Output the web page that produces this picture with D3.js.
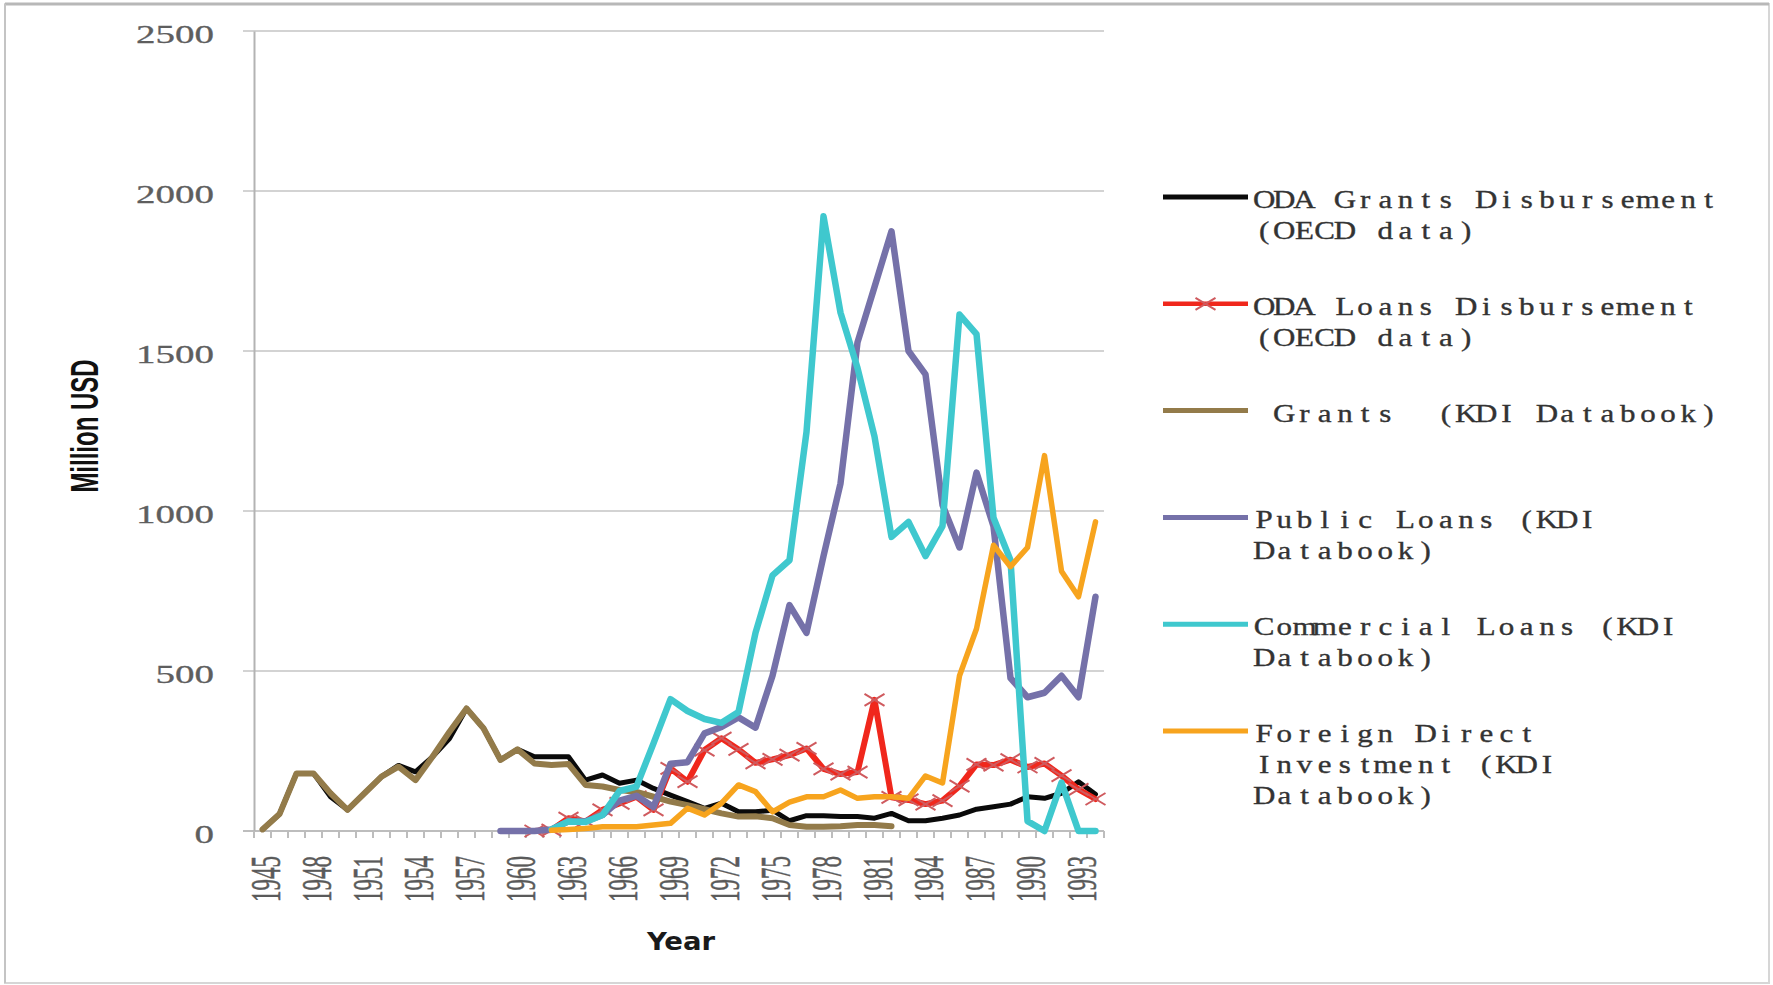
<!DOCTYPE html>
<html>
<head>
<meta charset="utf-8">
<script src="https://cdn.jsdelivr.net/npm/d3@7"></script>
<style>
  html, body { margin: 0; padding: 0; background: #fff; }
  svg { display: block; }
</style>
</head>
<body>
<svg id="chart" width="1773" height="985"></svg>
<script>
const years = [1945, 1946, 1947, 1948, 1949, 1950, 1951, 1952, 1953, 1954,
  1955, 1956, 1957, 1958, 1959, 1960, 1961, 1962, 1963, 1964,
  1965, 1966, 1967, 1968, 1969, 1970, 1971, 1972, 1973, 1974,
  1975, 1976, 1977, 1978, 1979, 1980, 1981, 1982, 1983, 1984,
  1985, 1986, 1987, 1988, 1989, 1990, 1991, 1992, 1993, 1994];
const xTickLabels = [1945, 1948, 1951, 1954, 1957, 1960, 1963, 1966, 1969, 1972, 1975, 1978, 1981, 1984, 1987, 1990, 1993];
const yTicks = [0, 500, 1000, 1500, 2000, 2500];

// million USD, one value per year, null = no data
const odaGrants = [5, 53, 180, 180, 107, 66, 118, 170, 205, 185,
  232, 289, 383, 321, 222, 255, 232, 232, 232, 159,
  175, 149, 159, 133, 112, 92, 71, 87, 60, 60,
  65, 32, 48, 48, 45, 45, 40, 55, 32, 32,
  40, 50, 68, 76, 84, 107, 102, 118, 154, 115];
const odaLoans = [null, null, null, null, null, null, null, null, null, null,
  null, null, null, null, null, null, 0, 3, 40, 30,
  66, 86, 107, 66, 196, 154, 253, 290, 255, 213,
  224, 237, 258, 194, 178, 184, 410, 105, 97, 84,
  95, 140, 208, 206, 223, 200, 211, 173, 130, 100];
const grantsKDI = [5, 53, 180, 180, 118, 66, 118, 170, 201, 159,
  232, 310, 383, 321, 222, 255, 211, 206, 209, 144,
  139, 128, 122, 107, 92, 81, 68, 55, 45, 46,
  40, 19, 13, 13, 15, 19, 19, 15, null, null,
  null, null, null, null, null, null, null, null, null, null];
const publicLoans = [null, null, null, null, null, null, null, null, null, null,
  null, null, null, null, 0, 0, 0, 5, 30, 30,
  50, 95, 110, 75, 210, 215, 305, 325, 355, 323,
  485, 706, 619, 859, 1086, 1527, 1700, 1874, 1500, 1427,
  1019, 886, 1120, 952, 478, 418, 432, 485, 418, 732];
const commercialLoans = [null, null, null, null, null, null, null, null, null, null,
  null, null, null, null, null, null, null, 5, 30, 28,
  50, 125, 139, 274, 412, 375, 350, 338, 372, 619,
  799, 846, 1247, 1921, 1620, 1447, 1233, 919, 966, 859,
  953, 1614, 1553, 979, 846, 31, 0, 151, 0, 0];
const fdi = [null, null, null, null, null, null, null, null, null, null,
  null, null, null, null, null, null, null, 2, 5, 8,
  13, 13, 13, 19, 24, 71, 50, 87, 144, 123,
  60, 90, 107, 107, 128, 102, 107, 107, 102, 172,
  150, 485, 632, 893, 826, 886, 1173, 812, 732, 966];

const legendLabels = [
  ['ODA Grants Disbursement', '(OECD data)'],
  ['ODA Loans Disbursement', '(OECD data)'],
  [' Grants  (KDI Databook)'],
  ['Public Loans (KDI', 'Databook)'],
  ['Commercial Loans (KDI', 'Databook)'],
  ['Foreign Direct', 'Investment (KDI', 'Databook)']
];

const series = [
  { values: odaGrants, color: '#0a0a0a', width: 5 },
  { values: odaLoans, color: '#f0271c', width: 6, marker: true },
  { values: grantsKDI, color: '#937b4a', width: 6 },
  { values: publicLoans, color: '#7571a9', width: 6.5 },
  { values: commercialLoans, color: '#3fc8ce', width: 6.5 },
  { values: fdi, color: '#f7a41e', width: 5.5 }
];

const svg = d3.select('#chart');

const x = d3.scaleBand().domain(years).range([254, 1104]).padding(0);
const y = d3.scaleLinear().domain([0, 2500]).range([831, 31]);
const cx = d => x(d) + x.bandwidth() / 2;
const [x0, x1] = x.range();

// outer frame
svg.append('rect')
  .attr('x', 5).attr('y', 4).attr('width', 1764).attr('height', 979)
  .attr('fill', '#fff').attr('stroke', '#d6d6d6').attr('stroke-width', 2);
svg.append('line')
  .attr('x1', 5).attr('x2', 1769).attr('y1', 4).attr('y2', 4)
  .attr('stroke', '#b8b8b8').attr('stroke-width', 3);
svg.append('line')
  .attr('x1', 5).attr('x2', 5).attr('y1', 4).attr('y2', 983)
  .attr('stroke', '#c4c4c4').attr('stroke-width', 2);

// gridlines
svg.append('g')
  .selectAll('line')
  .data(yTicks)
  .join('line')
  .attr('x1', x0 - 11).attr('x2', x1)
  .attr('y1', d => y(d)).attr('y2', d => y(d))
  .attr('stroke', d => d === 0 ? '#bdbdbd' : '#d3d3d3')
  .attr('stroke-width', 2);

// y axis
const yAxis = svg.append('g')
  .attr('transform', `translate(${x0},0)`)
  .call(d3.axisLeft(y).tickValues(yTicks).tickSize(0).tickSizeOuter(0).tickFormat(d3.format('d')));
yAxis.select('.domain').attr('stroke', '#b3b3b3').attr('stroke-width', 2);
yAxis.selectAll('text')
  .attr('x', null).attr('dy', null)
  .attr('transform', 'translate(-40,11) scale(1.5,1)')
  .attr('text-anchor', 'end')
  .style('font-family', '"Liberation Serif", "DejaVu Serif", serif')
  .style('font-size', '26px')
  .style('fill', '#5e5e5e')
  .style('stroke', '#5e5e5e')
  .style('stroke-width', '0.3px');

// x ticks on band edges
svg.append('g')
  .selectAll('line')
  .data(years.concat([null]))
  .join('line')
  .attr('x1', d => d === null ? x1 : x(d))
  .attr('x2', d => d === null ? x1 : x(d))
  .attr('y1', y(0)).attr('y2', y(0) + 7)
  .attr('stroke', '#bdbdbd').attr('stroke-width', 2);

const xAxis = svg.append('g')
  .attr('transform', `translate(0,${y(0)})`)
  .call(d3.axisBottom(x).tickValues(xTickLabels).tickSize(0).tickFormat(d3.format('d')));
xAxis.select('.domain').remove();
xAxis.selectAll('text')
  .attr('y', null).attr('dy', null)
  .attr('transform', 'translate(17.5,25) rotate(-90) scale(1,1.85)')
  .attr('text-anchor', 'end')
  .style('font-family', '"Liberation Serif", "DejaVu Serif", serif')
  .style('font-size', '23px')
  .style('fill', '#5a5a5a')
  .style('stroke', '#5a5a5a')
  .style('stroke-width', '0.3px');

// axis titles
svg.append('text')
  .attr('transform', 'translate(98,426) rotate(-90) scale(1,1.6)')
  .attr('text-anchor', 'middle')
  .style('font-family', '"Liberation Sans", Arial, sans-serif')
  .style('font-weight', 'bold')
  .style('font-size', '24px')
  .style('fill', '#111')
  .text('Million USD');

svg.append('text')
  .attr('transform', 'translate(681,950) scale(1.1,1)')
  .attr('text-anchor', 'middle')
  .style('font-family', '"DejaVu Sans", Verdana, sans-serif')
  .style('font-weight', 'bold')
  .style('font-size', '25px')
  .style('fill', '#1a1a1a')
  .text('Year');

// series lines
const line = d3.line()
  .defined(d => d.v !== null)
  .x(d => cx(d.year))
  .y(d => y(d.v));

const crossPath = 'M-10,-6L10,6M-10,6L10,-6';

series.forEach(s => {
  const pts = years.map((year, i) => ({ year, v: s.values[i] }));
  svg.append('path')
    .datum(pts)
    .attr('d', line)
    .attr('fill', 'none')
    .attr('stroke', s.color)
    .attr('stroke-width', s.width)
    .attr('stroke-linejoin', 'round')
    .attr('stroke-linecap', 'round');

  if (s.marker) {
    svg.append('g')
      .selectAll('path')
      .data(pts.filter(d => d.v !== null))
      .join('path')
      .attr('transform', d => `translate(${cx(d.year)},${y(d.v)})`)
      .attr('d', crossPath)
      .attr('fill', 'none')
      .attr('stroke', '#cf5a5e')
      .attr('stroke-width', 2);
  }
});

// legend, monospaced look: one glyph per 20.2px cell
const legX = 1254, pitch = 20.2, sx = 1.24;
const legTop = 208, legStep = 106.8, legLine = 30.8;

series.forEach((s, i) => {
  const base = legTop + i * legStep;
  const g = svg.append('g');
  g.append('line')
    .attr('x1', 1163).attr('x2', 1248)
    .attr('y1', base - 11).attr('y2', base - 11)
    .attr('stroke', s.color)
    .attr('stroke-width', s.marker ? 4.5 : 5);
  if (s.marker) {
    g.append('path')
      .attr('transform', `translate(${(1163 + 1248) / 2},${base - 11})`)
      .attr('d', crossPath)
      .attr('fill', 'none')
      .attr('stroke', '#cf5a5e')
      .attr('stroke-width', 2);
  }
  legendLabels[i].forEach((txt, j) => {
    const chars = Array.from(txt);
    g.append('text')
      .attr('transform', `translate(${legX},${base + j * legLine}) scale(${sx},1)`)
      .attr('x', chars.map((c, k) => ((k + 0.5) * pitch / sx).toFixed(2)).join(' '))
      .attr('text-anchor', 'middle')
      .attr('xml:space', 'preserve')
      .style('font-family', '"Liberation Serif", "DejaVu Serif", serif')
      .style('font-size', '25px')
      .style('fill', '#333')
      .style('stroke', '#333')
      .style('stroke-width', '0.35px')
      .text(txt);
  });
});
</script>
</body>
</html>
